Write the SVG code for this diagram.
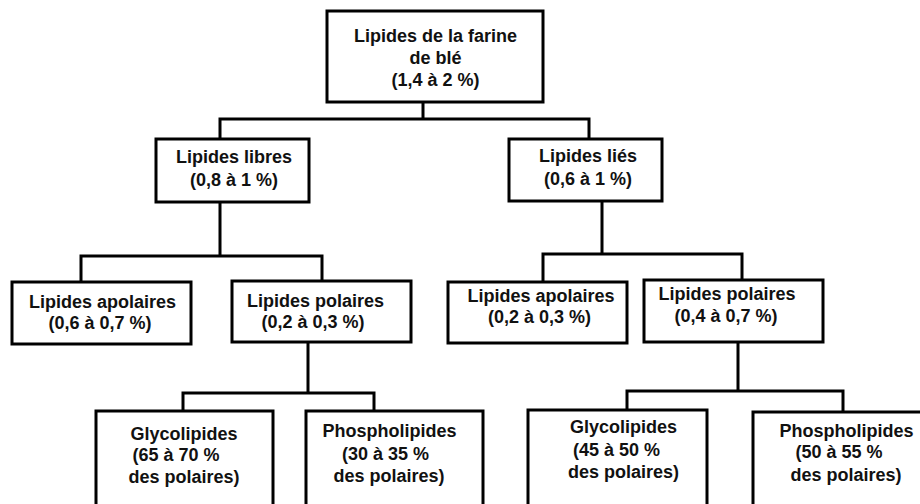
<svg xmlns="http://www.w3.org/2000/svg" width="920" height="504" viewBox="0 0 920 504">
<style>
.box{fill:#fff;stroke:#000;stroke-width:3}
.ln{fill:none;stroke:#000;stroke-width:3;stroke-linecap:square}
text{font-family:"Liberation Sans",Arial,sans-serif;font-weight:bold;font-size:18px;fill:#111;text-anchor:middle}
</style>
<rect width="920" height="504" fill="#fff"/>
<g id="connectors">
<path class="ln" d="M423,102 V119 M220,119 H589 M220,119 V139 M589,119 V139"/>
<path class="ln" d="M220,202 V256 M81,256 H322 M81,256 V282 M322,256 V281"/>
<path class="ln" d="M602,201 V254 M543,254 H742 M543,254 V282 M742,254 V280"/>
<path class="ln" d="M308,342 V393 M183,393 H374 M183,393 V411 M374,393 V411"/>
<path class="ln" d="M738,342 V391 M627,391 H843 M627,391 V410 M843,391 V412"/>
</g>
<g id="root">
<rect class="box" x="327" y="11" width="216" height="91"/>
<text x="435.5" y="42">Lipides de la farine</text>
<text x="435.5" y="64">de blé</text>
<text x="435.5" y="86">(1,4 à 2 %)</text>
</g>
<g id="libres">
<rect class="box" x="156" y="139" width="153" height="63"/>
<text x="234" y="163">Lipides libres</text>
<text x="234" y="186">(0,8 à 1 %)</text>
</g>
<g id="lies">
<rect class="box" x="509" y="139" width="153" height="62"/>
<text x="588" y="162">Lipides liés</text>
<text x="588" y="185">(0,6 à 1 %)</text>
</g>
<g id="apolaires-libres">
<rect class="box" x="12" y="282" width="179" height="62"/>
<text x="102.5" y="308">Lipides apolaires</text>
<text x="100" y="329">(0,6 à 0,7 %)</text>
</g>
<g id="polaires-libres">
<rect class="box" x="232" y="281" width="179" height="61"/>
<text x="315.5" y="307">Lipides polaires</text>
<text x="313" y="328">(0,2 à 0,3 %)</text>
</g>
<g id="apolaires-lies">
<rect class="box" x="448" y="282" width="179" height="61"/>
<text x="541" y="302">Lipides apolaires</text>
<text x="539.5" y="323">(0,2 à 0,3 %)</text>
</g>
<g id="polaires-lies">
<rect class="box" x="644" y="280" width="179" height="62"/>
<text x="727" y="300">Lipides polaires</text>
<text x="726" y="322">(0,4 à 0,7 %)</text>
</g>
<g id="glyco-libres">
<rect class="box" x="96" y="411" width="177" height="100"/>
<text x="184" y="440">Glycolipides</text>
<text x="176" y="461">(65 à 70 %</text>
<text x="184" y="483">des polaires)</text>
</g>
<g id="phospho-libres">
<rect class="box" x="306" y="411" width="177" height="100"/>
<text x="389.5" y="437">Phospholipides</text>
<text x="385.5" y="460">(30 à 35 %</text>
<text x="389" y="482">des polaires)</text>
</g>
<g id="glyco-lies">
<rect class="box" x="528" y="410" width="179" height="101"/>
<text x="623.5" y="433">Glycolipides</text>
<text x="616.5" y="456">(45 à 50 %</text>
<text x="623.5" y="478">des polaires)</text>
</g>
<g id="phospho-lies">
<rect class="box" x="753" y="412" width="175" height="99"/>
<text x="846.5" y="437">Phospholipides</text>
<text x="839" y="458">(50 à 55 %</text>
<text x="846" y="481">des polaires)</text>
</g>
</svg>
